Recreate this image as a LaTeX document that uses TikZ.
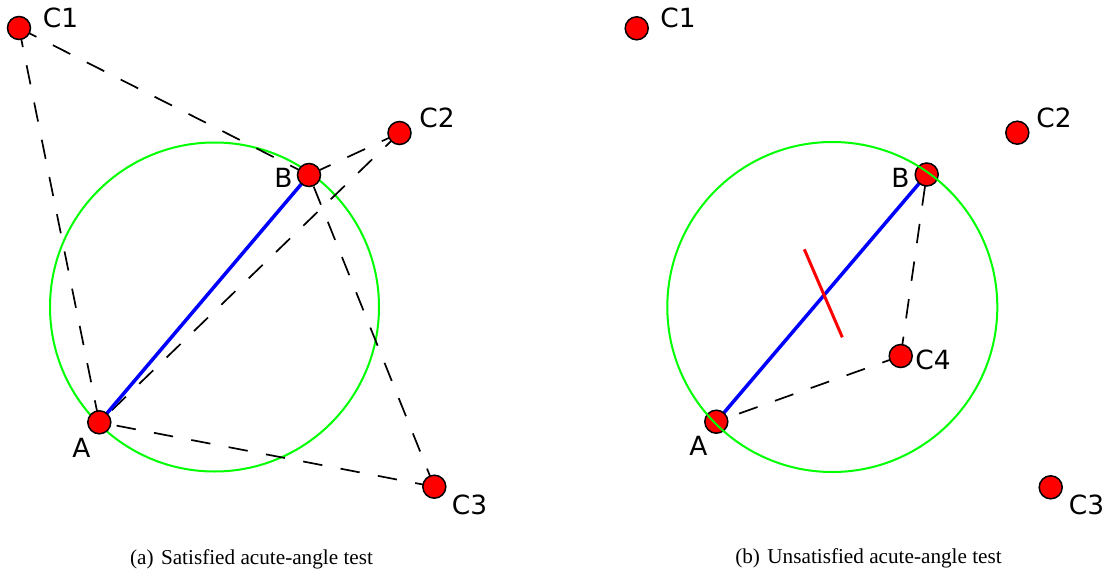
\documentclass[tikz,border=0pt]{standalone}
\usepackage{fontspec}
\setmainfont{Liberation Serif}
\newfontfamily\lblfont{DejaVu Sans}
\tikzset{
  pt/.style={circle, draw=black, line width=0.75pt, fill=red, minimum size=11.5pt, inner sep=0pt},
  lbl/.style={font=\lblfont\fontsize{13.2}{15}\selectfont, inner sep=0pt, anchor=center},
  captext/.style={font=\fontsize{10.6}{12}\selectfont, inner sep=0pt, anchor=base},
  dline/.style={draw=black, line width=0.85pt, dash pattern=on 9.75pt off 9.25pt},
  bline/.style={draw=blue, line width=1.75pt},
  rline/.style={draw=red, line width=1.5pt},
  gcirc/.style={draw=green, line width=1pt}
}
\begin{document}
\begin{tikzpicture}[x=0.5pt, y=-0.5pt]
\useasboundingbox (0,0) rectangle (1111,572);
% ---------- (a) ----------
\coordinate (cA) at (214.5,307);
\draw[gcirc] (cA) circle[radius=82.25pt];
\coordinate (a1) at (19,28);
\coordinate (a2) at (399.5,133);
\coordinate (a3) at (434.3,486.7);
\coordinate (aB) at (309,175);
\coordinate (aA) at (99.3,422.3);
\draw[dline] (a1) -- (aA);
\draw[dline] (a1) -- (aB);
\draw[dline] (a2) -- (aB);
\draw[dline] (a2) -- (aA);
\draw[dline] (a3) -- (aA);
\draw[dline] (a3) -- (aB);
\draw[bline] (aA) -- (aB);
\node[pt] (pa1) at (a1) {};
\node[pt] (pa2) at (a2) {};
\node[pt] (pa3) at (a3) {};
\node[pt] (paB) at (aB) {};
\node[pt] (paA) at (aA) {};
\node[lbl] (la1) at (60.5,17.5) {C1};
\node[lbl] (la2) at (437,118) {C2};
\node[lbl] (la3) at (469.5,504.5) {C3};
\node[lbl] (laB) at (283.5,177.5) {B};
\node[lbl] (laA) at (81.5,447.5) {A};
\node[captext] (capa) at (251.5,564) {(a)\hspace{0.35em}Satisfied acute-angle test};
% ---------- (b) ----------
\coordinate (cB) at (832.3,307);
\coordinate (b1) at (636.7,28.3);
\coordinate (b2) at (1017.3,132.7);
\coordinate (b3) at (1050.7,487.3);
\coordinate (b4) at (900.7,356);
\coordinate (bB) at (926.7,174.5);
\coordinate (bA) at (716.3,421.7);
\coordinate (r1) at (804.3,249.3);
\coordinate (r2) at (842.3,337.3);
\draw[dline] (b4) -- (bB);
\draw[dline] (b4) -- (bA);
\draw[bline] (bA) -- (bB);
\draw[rline] (r1) -- (r2);
\node[pt] (pb1) at (b1) {};
\node[pt] (pb2) at (b2) {};
\node[pt] (pb3) at (b3) {};
\node[pt] (pb4) at (b4) {};
\node[pt] (pbB) at (bB) {};
\node[pt] (pbA) at (bA) {};
\draw[gcirc] (cB) circle[radius=82.5pt];
\node[lbl] (lb1) at (678,17.5) {C1};
\node[lbl] (lb2) at (1054,118) {C2};
\node[lbl] (lb3) at (1086.5,504.5) {C3};
\node[lbl] (lb4) at (933,360) {C4};
\node[lbl] (lbB) at (900.5,177.5) {B};
\node[lbl] (lbA) at (698.5,446) {A};
\node[captext] (capb) at (868.5,563.5) {(b)\hspace{0.35em}Unsatisfied acute-angle test};
\end{tikzpicture}
\end{document}
